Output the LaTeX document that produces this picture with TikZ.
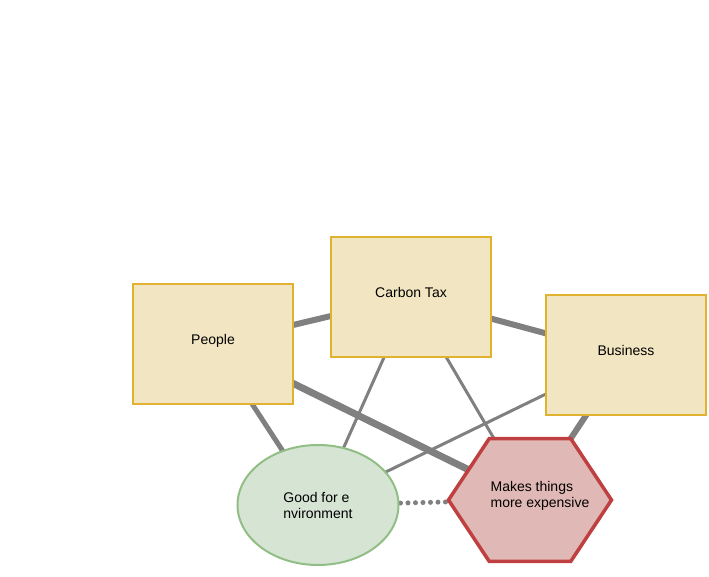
\documentclass[tikz,border=0pt]{standalone}
\usepackage{fontspec}
\setmainfont{Liberation Sans}
\usetikzlibrary{shapes.geometric,backgrounds}

\definecolor{cajafondo}{RGB}{242,229,193}
\definecolor{cajaborde}{RGB}{224,178,48}
\definecolor{verdefondo}{RGB}{214,228,212}
\definecolor{verdeborde}{RGB}{145,190,132}
\definecolor{rojofondo}{RGB}{224,184,181}
\definecolor{rojoborde}{RGB}{190,64,64}
\definecolor{gris}{RGB}{128,128,128}

\tikzset{
  caja/.style={rectangle, draw=cajaborde, fill=cajafondo, line width=2pt,
    minimum width=160pt, minimum height=120pt, text depth=9pt},
  elipse/.style={ellipse, draw=verdeborde, fill=verdefondo, line width=2pt,
    minimum width=161pt, minimum height=120pt, inner sep=0pt, align=left},
  hexa/.style={regular polygon, regular polygon sides=6, draw=rojoborde,
    fill=rojofondo, line width=3.5pt, minimum size=163pt, inner sep=0pt},
  enlace/.style={draw=gris, line width=#1},
  punteado/.style={draw=gris, line width=5pt, line cap=round,
    dash pattern=on 0pt off 7.5pt}
}

\begin{document}
\begin{tikzpicture}[x=1pt, y=-1pt, font=\fontsize{14}{16}\selectfont]
  \useasboundingbox (0,0) rectangle (709,577);

  % Nodos
  \node[caja] (people) at (213,344) {People};
  \node[caja] (carbon) at (411,297) {Carbon Tax};
  \node[caja] (business) at (626,355) {Business};
  \node[elipse] (good) at (318,505) {Good for e\\nvironment};
  \begin{scope}[shift={(530,500)}, yscale=0.87]
    \node[hexa, transform shape] (makes) at (0,0) {};
  \end{scope}
  \node[align=left] (makestxt) at (540,496) {Makes things\\more expensive};

  % Enlaces
  \begin{pgfonlayer}{background}
    \draw[enlace=6pt] (people.center) -- (carbon.center);
    \draw[enlace=6pt] (carbon.center) -- (business.center);
    \draw[enlace=7pt] (people.center) -- (makes.center);
    \draw[enlace=5pt] (people.center) -- (good.center);
    \draw[enlace=3pt] (carbon.center) -- (good.center);
    \draw[enlace=3pt] (carbon.center) -- (makes.center);
    \draw[enlace=3pt] (business.center) -- (good.center);
    \draw[enlace=6pt] (business.center) -- (makes.center);
    \draw[punteado] (good.center) -- (makes.center);
  \end{pgfonlayer}
\end{tikzpicture}
\end{document}
